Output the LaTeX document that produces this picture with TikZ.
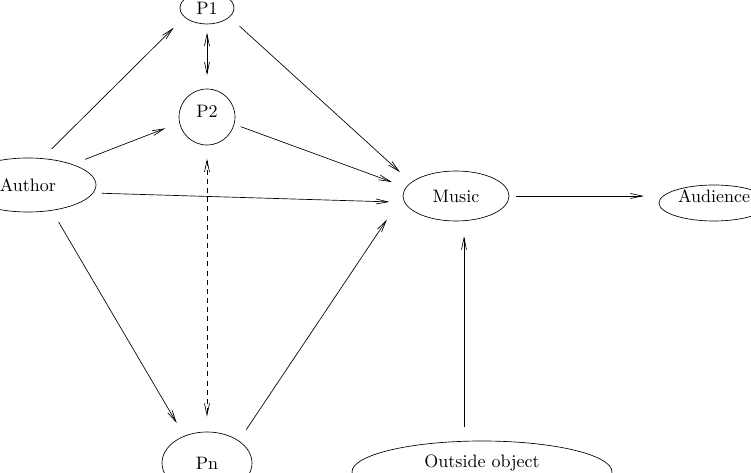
\documentclass[tikz,border=0pt]{standalone}
\usepackage{tikz}
\usetikzlibrary{shapes.geometric,arrows.meta}

\begin{document}
\begin{tikzpicture}[x=0.6pt,y=-0.6pt,
  every node/.style={font=\fontsize{10.8}{13}\selectfont},
  blob/.style={draw,ellipse,inner sep=0pt},
  lift/.style={text height=7pt,text depth=#1},
  >={Straight Barb[length=7pt,width=3pt]},
  link/.style={->,shorten <=8pt,shorten >=9pt}]

\clip (0,0) rectangle (751,473);

\node [blob,minimum width=32.4pt,minimum height=19.2pt] (p1) at (207,8) {P1};
\node [draw,circle,inner sep=0pt,minimum size=33.6pt,lift=6pt] (p2) at (207,117) {P2};
\node [blob,minimum width=81.6pt,minimum height=32.4pt] (author) at (28,185) {Author};
\node [blob,minimum width=63.6pt,minimum height=30pt] (music) at (456,196) {Music};
\node [blob,minimum width=66pt,minimum height=21.6pt,lift=7.2pt] (audience) at (714,203) {Audience};
\node [blob,minimum width=54pt,minimum height=37.2pt] (pn) at (207,463) {Pn};
\node [blob,minimum width=156pt,minimum height=37.2pt,lift=12.8pt] (outside) at (482,472) {Outside object};

\draw [link] (author.62) -- (p1.202);
\draw [link,<->,shorten <=5pt,shorten >=8pt] (p1.south) -- (p2.north);
\draw [link] (author.25) -- (p2.192);
\draw [link] (p1.-22) -- (music.163);
\draw [link,shorten <=4pt] (p2.-15) -- (music.170);
\draw [link,shorten <=5pt] (author.-7) -- (music.187);
\draw [link,shorten >=17pt] (pn.35) -- (music.west);
\draw [link,shorten <=4pt] (music.east) -- (music.east -| audience.west);
\draw [link] ([xshift=4.8pt]music.south |- outside.north) -- ([xshift=4.8pt]music.south);
\draw [link] (author.-47) -- (pn.130);
\draw [link,<->,dash pattern=on 3pt off 2.5pt] (p2.south) -- (pn.north);
\end{tikzpicture}
\end{document}
